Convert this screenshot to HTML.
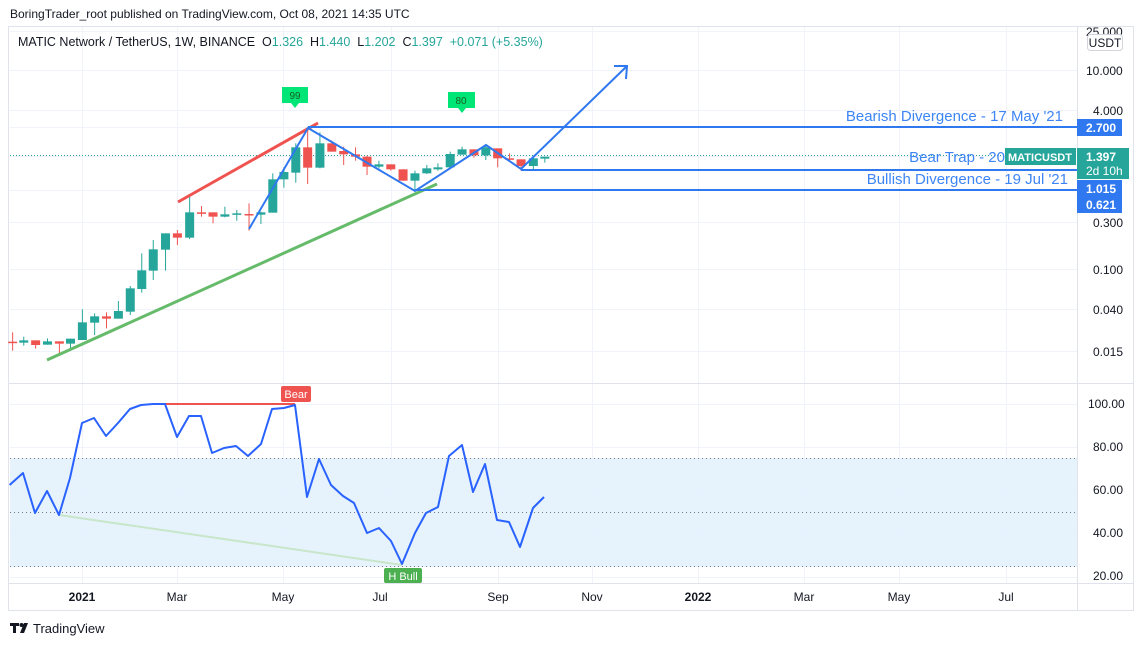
<!DOCTYPE html>
<html><head><meta charset="utf-8"><style>
html,body{margin:0;padding:0;background:#fff;}
body{width:1143px;height:646px;overflow:hidden;font-family:"Liberation Sans",sans-serif;}
</style></head><body>
<svg id="s" width="1143" height="646" xmlns="http://www.w3.org/2000/svg" font-family="Liberation Sans, sans-serif">
<rect x="0" y="0" width="1143" height="646" fill="#fff"/>
<text x="10" y="18" font-size="12" fill="#131722">BoringTrader_root published on TradingView.com, Oct 08, 2021 14:35 UTC</text>
<rect x="8.5" y="26.5" width="1125" height="584" fill="none" stroke="#e0e3eb"/>
<g id="grid" stroke="#f0f3fa" stroke-width="1"></g>
<rect x="10" y="458" width="1067" height="109" fill="#e3f2fd" opacity="0.9"/>
<g stroke="#787b86" stroke-dasharray="1,3" stroke-width="1">
<line x1="10" y1="458.5" x2="1077" y2="458.5"/><line x1="10" y1="512.5" x2="1077" y2="512.5"/><line x1="10" y1="566.5" x2="1077" y2="566.5"/>
</g>
<line x1="8" y1="383.5" x2="1134" y2="383.5" stroke="#e0e3eb"/>
<line x1="8" y1="583.5" x2="1134" y2="583.5" stroke="#e0e3eb"/>
<line x1="1077.5" y1="27" x2="1077.5" y2="610" stroke="#e0e3eb"/>
<text x="18" y="46" font-size="12.5" fill="#131722" xml:space="preserve">MATIC Network / TetherUS, 1W, BINANCE  O<tspan fill="#26a69a">1.326</tspan>  H<tspan fill="#26a69a">1.440</tspan>  L<tspan fill="#26a69a">1.202</tspan>  C<tspan fill="#26a69a">1.397</tspan>  <tspan fill="#26a69a">+0.071 (+5.35%)</tspan></text>
<line x1="10" y1="155.5" x2="1077" y2="155.5" stroke="#26a69a" stroke-dasharray="1,2"/>
<g id="candles"></g>
<line x1="178" y1="202" x2="318" y2="123" stroke="#ef5350" stroke-width="3"/>
<line x1="47" y1="360" x2="437" y2="184" stroke="#66bb6a" stroke-width="3"/>
<g stroke="#2f78f0" stroke-width="2" fill="none">
<polyline points="249,229 308,128 415,191 486,145 521,169 627,66"/>
<polyline points="614,66 627,66 626,79"/>
<line x1="308" y1="127" x2="1077" y2="127"/>
<line x1="521" y1="170" x2="1077" y2="170"/>
<line x1="415" y1="190" x2="1077" y2="190"/>
</g>
<g font-size="15" fill="#3d85f5" text-anchor="end">
<text x="1063" y="121">Bearish Divergence - 17 May '21</text>
<text x="1005" y="162">Bear Trap - 20</text>
<text x="1068" y="184">Bullish Divergence - 19 Jul '21</text>
</g>
<rect x="1005" y="148" width="71" height="17" fill="#26a69a"/>
<text x="1040" y="161" font-size="11" font-weight="bold" fill="#fff" text-anchor="middle">MATICUSDT</text>
<path d="M282 87h26v16h-9l-4 5l-4-5h-9z" fill="#00e676"/>
<text x="295" y="99" font-size="10" fill="#1b5e20" text-anchor="middle">99</text>
<path d="M448 92h27v16h-9l-4 5l-4-5h-10z" fill="#00e676"/>
<text x="461" y="104" font-size="10" fill="#1b5e20" text-anchor="middle">80</text>
<g font-size="12" fill="#131722">
<text x="1086" y="36">25.000</text><text x="1086" y="75">10.000</text><text x="1093" y="115">4.000</text>
<text x="1093" y="227">0.300</text><text x="1093" y="274">0.100</text><text x="1093" y="314">0.040</text><text x="1093" y="356">0.015</text>
</g>
<rect x="1087.5" y="34.5" width="35" height="16" rx="3" fill="#fff" stroke="#d1d4dc"/>
<text x="1105" y="47" font-size="12" fill="#131722" text-anchor="middle">USDT</text>
<rect x="1077" y="119" width="45" height="17" fill="#2f78f0"/><text x="1086" y="132" font-size="12" font-weight="bold" fill="#fff">2.700</text>
<rect x="1077" y="148" width="52" height="31" fill="#26a69a"/><text x="1086" y="161" font-size="12" font-weight="bold" fill="#fff">1.397</text><text x="1086" y="175" font-size="12" fill="#fff">2d 10h</text>
<rect x="1077" y="180" width="45" height="33" fill="#2f78f0"/><text x="1086" y="193" font-size="12" font-weight="bold" fill="#fff">1.015</text><text x="1086" y="209" font-size="12" font-weight="bold" fill="#fff">0.621</text>
<line x1="59" y1="515" x2="402" y2="565" stroke="#c8e6c9" stroke-width="2"/>
<line x1="165" y1="404" x2="295" y2="404" stroke="#ef5350" stroke-width="2"/>
<polyline fill="none" stroke="#2962ff" stroke-width="2" stroke-linejoin="round" points="9.6,485 23,473 35,513 47,491 59,515 70,478 82,423 94,418 106,436 118,423 130,409 141,405 153,404 165,404 177,437 189,416 201,416 212,453 224,448 236,446 248,456 261,444 272,409 284,408 295,405 307,497 319,459 331,485 343,496 354,503 367,533 379,528 391,541 402,564 415,533 426,513 438,507 449,456 462,445 473,492 485,464 497,520 509,522 520,547 533,508 544,497"/>
<rect x="281" y="386" width="30" height="16" rx="2" fill="#ef5350"/><text x="296" y="398" font-size="11" fill="#fff" text-anchor="middle">Bear</text>
<rect x="384" y="568" width="38" height="15" rx="2" fill="#4caf50"/><text x="403" y="580" font-size="11" fill="#fff" text-anchor="middle">H Bull</text>
<g font-size="12" fill="#131722">
<text x="1088" y="408">100.00</text><text x="1093" y="451">80.00</text><text x="1093" y="494">60.00</text><text x="1093" y="537">40.00</text><text x="1093" y="580">20.00</text>
</g>
<g font-size="12" fill="#131722" text-anchor="middle">
<text x="82" y="601" font-weight="bold">2021</text><text x="177" y="601">Mar</text><text x="283" y="601">May</text><text x="380" y="601">Jul</text><text x="498" y="601">Sep</text><text x="592" y="601">Nov</text><text x="698" y="601" font-weight="bold">2022</text><text x="804" y="601">Mar</text><text x="899" y="601">May</text><text x="1006" y="601">Jul</text>
</g>
<g fill="#131722"><rect x="10" y="623" width="9" height="3"/><rect x="13" y="623" width="3" height="10"/><circle cx="21.5" cy="625" r="2"/><path d="M24 623h4l-4 10h-4z"/></g>
<text x="33" y="633" font-size="13" fill="#131722">TradingView</text>
</svg>
<script>
var s='http://www.w3.org/2000/svg';
function el(p,t,a){var e=document.createElementNS(s,t);for(var k in a)e.setAttribute(k,a[k]);p.appendChild(e);return e;}
var g=document.getElementById('grid');
[31,70,110,127,156,190,222,269,309,351,404,447,490,534,577].forEach(function(y){el(g,'line',{x1:10,y1:y+.5,x2:1077,y2:y+.5});});
[82,177,283,391,498,592,698,804,899,1006].forEach(function(x){el(g,'line',{x1:x+.5,y1:27,x2:x+.5,y2:583});});
var C=[[33,785,785,757,812,0],[62,781,788,770,797,1],[93,781,795,781,806,0],[124,794,784,775,794,1],[155,784,791,784,825,0],[184,791,776,776,805,1],[215,780,727,688,780,1],[247,728,709,700,765,1],[278,709,716,697,745,0],[309,716,693,663,716,1],[340,695,625,618,705,1],[370,627,571,520,638,1],[400,572,508,480,600,1],[432,509,460,460,572,1],[463,460,473,450,495,0],[495,473,397,350,477,1],[526,397,398,378,410,0],[556,397,410,397,430,0],[587,410,403,380,412,1],[618,403,400,390,422,1],[650,402,404,370,452,0],[681,404,397,395,432,1],[712,398,298,280,398,1],[741,298,276,262,323,1],[772,278,202,190,308,1],[803,202,263,143,312,0],[835,263,190,157,265,1],[866,190,215,182,215,0],[897,213,223,200,255,0],[928,223,230,202,242,0],[958,230,260,227,285,0],[989,260,253,242,265,1],[1020,253,268,253,272,0],[1052,268,302,268,303,0],[1083,302,280,272,335,1],[1114,280,265,255,282,1],[1143,268,262,250,272,1],[1175,262,222,215,262,1],[1206,224,208,200,224,1],[1237,208,226,208,233,0],[1268,226,202,193,240,1],[1299,205,235,205,262,0],[1330,235,238,220,245,0],[1360,238,258,238,272,0],[1392,258,235,230,268,1],[1422,236,230,230,248,1]];
var cg=document.getElementById('candles');
C.forEach(function(c){var x=c[0]/2.61,col=c[5]?'#26a69a':'#ef5350';
var o=80+c[1]/3,cl=80+c[2]/3,h=80+c[3]/3,l=80+c[4]/3;
el(cg,'line',{x1:x,y1:h,x2:x,y2:l,stroke:col,'stroke-width':1});
var t=Math.min(o,cl),b=Math.max(o,cl);if(b-t<1.5)b=t+1.5;
el(cg,'rect',{x:x-4.5,y:t,width:9,height:b-t,fill:col});});
</script>
</body></html>
